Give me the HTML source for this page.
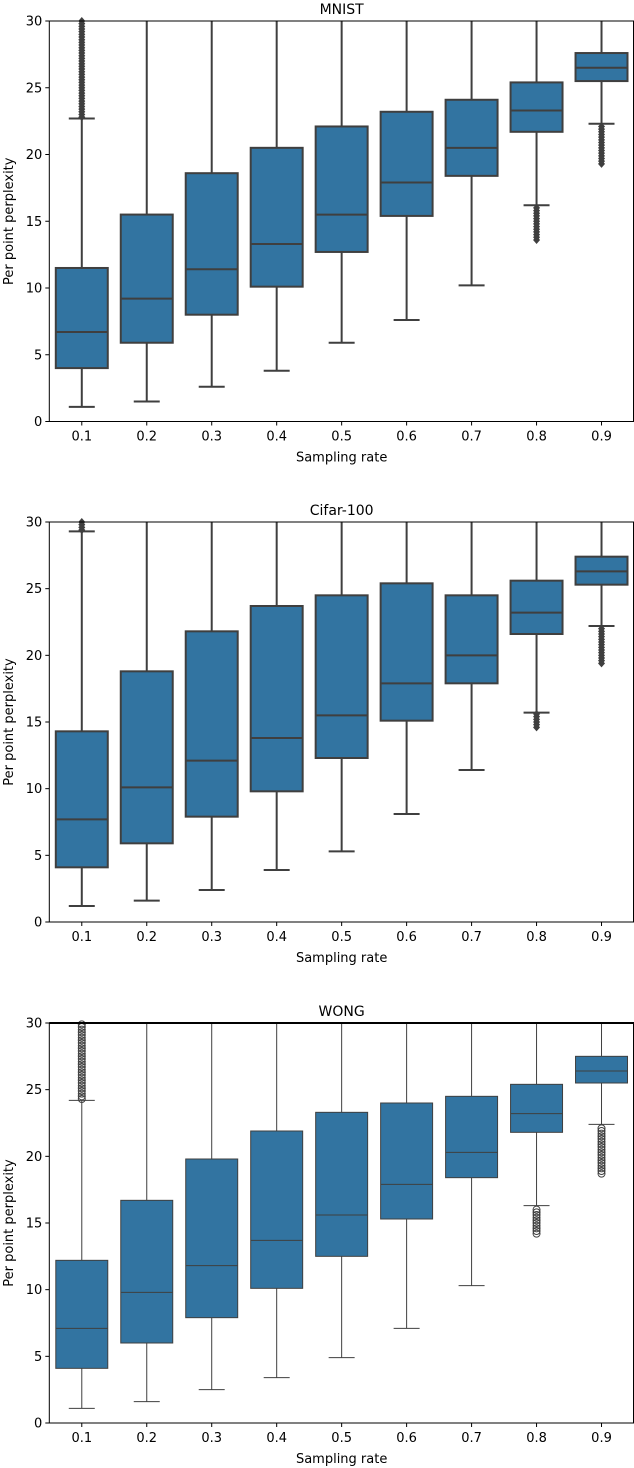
<!DOCTYPE html>
<html><head><meta charset="utf-8"><style>
body{margin:0;background:#fff}
svg{display:block;font-family:"DejaVu Sans","Liberation Sans",sans-serif}
</style></head><body>
<svg id="c" width="634" height="1468"></svg>
<script>
const categories=["0.1","0.2","0.3","0.4","0.5","0.6","0.7","0.8","0.9"];
const yTicks=[0,5,10,15,20,25,30];
const titles=["MNIST","Cifar-100","WONG"];
const mnistStats=[[1.1,4.0,6.7,11.5,22.7],[1.5,5.9,9.2,15.5,30],[2.6,8.0,11.4,18.6,30],[3.8,10.1,13.3,20.5,30],[5.9,12.7,15.5,22.1,30],[7.6,15.4,17.9,23.2,30],[10.2,18.4,20.5,24.1,30],[16.2,21.7,23.3,25.4,30],[22.3,25.5,26.5,27.6,30]];
const cifarStats=[[1.2,4.1,7.7,14.3,29.3],[1.6,5.9,10.1,18.8,30],[2.4,7.9,12.1,21.8,30],[3.9,9.8,13.8,23.7,30],[5.3,12.3,15.5,24.5,30],[8.1,15.1,17.9,25.4,30],[11.4,17.9,20.0,24.5,30],[15.7,21.6,23.2,25.6,30],[22.2,25.3,26.3,27.4,30]];
const wongStats=[[1.1,4.1,7.1,12.2,24.2],[1.6,6.0,9.8,16.7,30],[2.5,7.9,11.8,19.8,30],[3.4,10.1,13.7,21.9,30],[4.9,12.5,15.6,23.3,30],[7.1,15.3,17.9,24.0,30],[10.3,18.4,20.3,24.5,30],[16.3,21.8,23.2,25.4,30],[22.4,25.5,26.4,27.5,30]];
const mnistOut=[[22.8,23,23.2,23.4,23.6,23.8,24,24.2,24.4,24.6,24.8,25,25.2,25.4,25.6,25.8,26,26.2,26.4,26.6,26.8,27,27.2,27.4,27.6,27.8,28,28.2,28.4,28.6,28.8,29,29.2,29.4,29.6,29.8,30],[],[],[],[],[],[],[13.6,13.8,14,14.2,14.4,14.6,14.8,15,15.2,15.4,15.6,15.8,16],[19.3,19.5,19.7,19.9,20.1,20.3,20.5,20.7,20.9,21.1,21.3,21.5,21.7,21.9,22.1]];
const cifarOut=[[29.4,29.6,29.8,30],[],[],[],[],[],[],[14.6,14.8,15,15.2,15.4,15.6],[19.4,19.6,19.8,20,20.2,20.4,20.6,20.8,21,21.2,21.4,21.6,21.8,22]];
const wongOut=[[24.3,24.5,24.7,24.9,25.1,25.3,25.5,25.7,25.9,26.1,26.3,26.5,26.7,26.9,27.1,27.3,27.5,27.7,27.9,28.1,28.3,28.5,28.7,28.9,29.1,29.3,29.5,29.7,29.9],[],[],[],[],[],[],[14.2,14.4,14.6,14.8,15,15.2,15.4,15.6,15.8,16],[18.7,18.9,19.1,19.3,19.5,19.7,19.9,20.1,20.3,20.5,20.7,20.9,21.1,21.3,21.5,21.7,21.9,22.1]];
const panels=[{stats:mnistStats,out:mnistOut,top:21,bot:421.5,lw:2,marker:"d"},{stats:cifarStats,out:cifarOut,top:522,bot:922,lw:2,marker:"d"},{stats:wongStats,out:wongOut,top:1023,bot:1423,lw:1,marker:"o"}];
const svg=document.getElementById('c');const NS="http://www.w3.org/2000/svg";
function mk(t,a,p){const e=document.createElementNS(NS,t);for(const k in a)e.setAttribute(k,a[k]);(p||svg).appendChild(e);return e;}
const L=49.3,R=634,step=(R-L)/categories.length,bw=step*0.8;
panels.forEach((P,pi)=>{
 const g=mk('g',{});
 
 
 const y=v=>P.bot-(v/30)*(P.bot-P.top);
 const x=i=>L+step*(i+0.5);
 const ec="#3f3f3f";
 P.stats.forEach((s,i)=>{
  const bg=mk('g',{},g);
  
  
  const cx=x(i);
  mk('line',{x1:cx,x2:cx,y1:y(s[0]),y2:y(s[1]),stroke:ec,'stroke-width':P.lw},bg);
  mk('line',{x1:cx,x2:cx,y1:y(s[3]),y2:y(s[4]),stroke:ec,'stroke-width':P.lw},bg);
  mk('line',{x1:cx-bw/4,x2:cx+bw/4,y1:y(s[0]),y2:y(s[0]),stroke:ec,'stroke-width':P.lw},bg);
  if(s[4]<30)mk('line',{x1:cx-bw/4,x2:cx+bw/4,y1:y(s[4]),y2:y(s[4]),stroke:ec,'stroke-width':P.lw},bg);
  mk('rect',{x:cx-bw/2,y:y(s[3]),width:bw,height:y(s[1])-y(s[3]),fill:"#3274a1",stroke:ec,'stroke-width':P.lw},bg);
  mk('line',{x1:cx-bw/2,x2:cx+bw/2,y1:y(s[2]),y2:y(s[2]),stroke:ec,'stroke-width':P.lw},bg);
  P.out[i].forEach(v=>{
   const o=P.marker=="d"?mk('path',{d:`M${cx} ${y(v)-4}L${cx+3.5} ${y(v)}L${cx} ${y(v)+4}L${cx-3.5} ${y(v)}Z`,fill:ec},bg):mk('circle',{cx:cx,cy:y(v),r:3.5,fill:"none",stroke:ec,'stroke-width':1},bg);
   
   
  });
 });
 mk('rect',{x:L,y:P.top,width:R-L-0.5,height:P.bot-P.top,fill:"none",stroke:"#000",'stroke-width':1},g);
 if(pi==2)mk('line',{x1:L,x2:R,y1:P.top,y2:P.top,stroke:"#000",'stroke-width':2},g);
 yTicks.forEach(t=>{mk('line',{x1:L-4,x2:L,y1:y(t),y2:y(t),stroke:"#000"},g);
  const tx=mk('text',{x:L-7,y:y(t)+4.5,'text-anchor':'end','font-size':13},g);tx.textContent=t;
  });
 categories.forEach((c,i)=>{mk('line',{x1:x(i),x2:x(i),y1:P.bot,y2:P.bot+4,stroke:"#000"},g);
  const tx=mk('text',{x:x(i),y:P.bot+19,'text-anchor':'middle','font-size':13},g);tx.textContent=c;
  });
 const tt=mk('text',{x:(L+R)/2,y:P.top-7,'text-anchor':'middle','font-size':14},g);tt.textContent=titles[pi];
 
 const xl=mk('text',{x:(L+R)/2,y:P.bot+40,'text-anchor':'middle','font-size':13},g);xl.textContent="Sampling rate";
 
 const ym=(P.top+P.bot)/2;
 const yl=mk('text',{x:13,y:ym,'text-anchor':'middle','font-size':13,transform:`rotate(-90 13 ${ym})`},g);yl.textContent="Per point perplexity";
 
});
</script>
</body></html>
